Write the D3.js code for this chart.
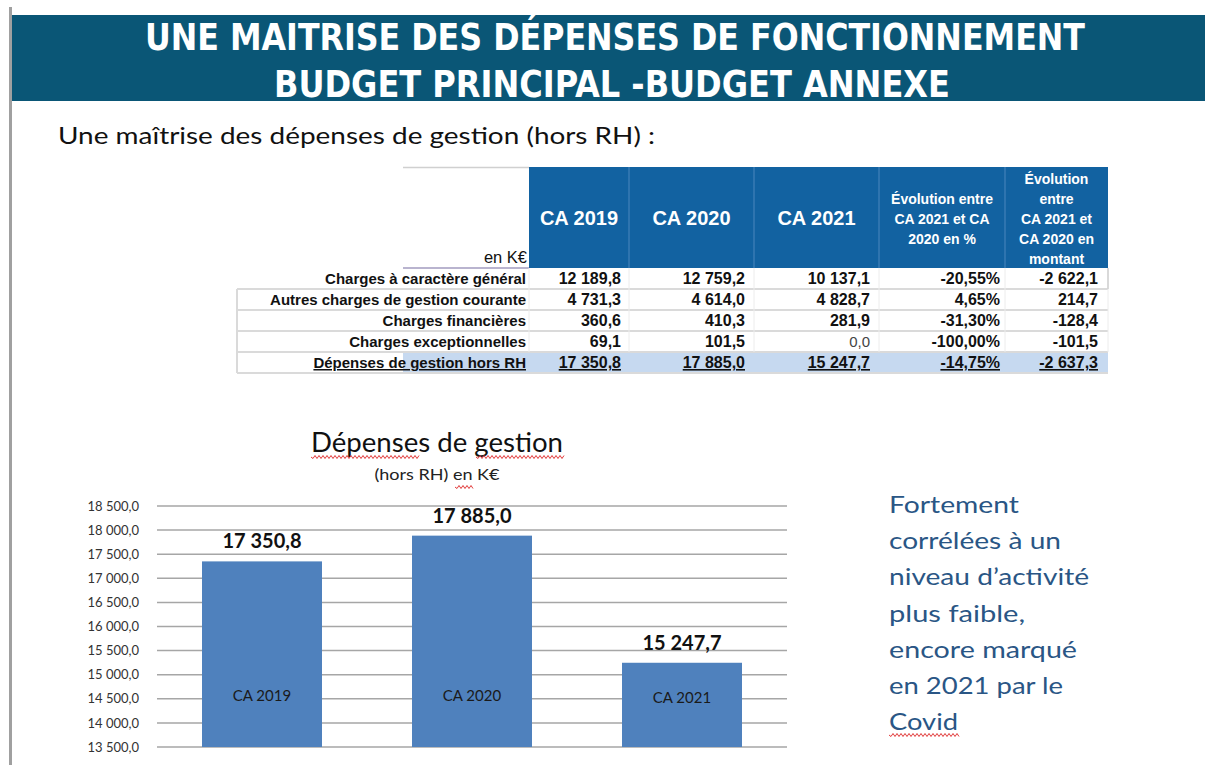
<!DOCTYPE html>
<html><head><meta charset="utf-8">
<script src="https://cdn.jsdelivr.net/npm/d3@7"></script>
<style>html,body{margin:0;padding:0;background:#fff;}svg{display:block;}</style>
</head><body>
<svg id="c" width="1205" height="765"></svg>
<script>
// ---------- DATA ----------
const titleLines = ["UNE MAITRISE DES DÉPENSES DE FONCTIONNEMENT", "BUDGET PRINCIPAL -BUDGET ANNEXE"];
const subtitle = "Une maîtrise des dépenses de gestion (hors RH) :";
const rowLabels = ["Charges à caractère général", "Autres charges de gestion courante", "Charges financières", "Charges exceptionnelles", "Dépenses de gestion hors RH"];
const ca2019 = [12189.8, 4731.3, 360.6, 69.1, 17350.8];
const ca2020 = [12759.2, 4614.0, 410.3, 101.5, 17885.0];
const ca2021 = [10137.1, 4828.7, 281.9, 0.0, 15247.7];
const evolPct = [-20.55, 4.65, -31.30, -100.00, -14.75];
const evolAmt = [-2622.1, 214.7, -128.4, -101.5, -2637.3];
const colHeaders = [["CA 2019"], ["CA 2020"], ["CA 2021"], ["Évolution entre", "CA 2021 et CA", "2020 en %"], ["Évolution", "entre", "CA 2021 et", "CA 2020 en", "montant"]];
const unitLabel = "en K€";

const chartTitle = "Dépenses de gestion";
const chartSub = "(hors RH) en K€";
const categories = ["CA 2019", "CA 2020", "CA 2021"];
const values = [17350.8, 17885.0, 15247.7];
const yTicks = [13500, 14000, 14500, 15000, 15500, 16000, 16500, 17000, 17500, 18000, 18500];
const noteLines = ["Fortement", "corrélées à un", "niveau d’activité", "plus faible,", "encore marqué", "en 2021 par le", "Covid"];

// ---------- HELPERS ----------
const loc = d3.formatLocale({decimal: ",", thousands: " ", grouping: [3], currency: ["", "€"], minus: "-"});
const f1 = loc.format(",.1f");
const f2 = v => loc.format(".2f")(v) + "%";
const svg = d3.select("#c");
const calib = "Lato, 'Open Sans', sans-serif";
const arial = "'Liberation Sans', Arial, sans-serif";

function wavy(x0, x1, y) {
  let p = `M${x0},${y}`;
  for (let x = x0; x < x1; x += 2) p += `L${x + 2},${y + ((x - x0) / 2 % 2 === 0 ? 1.5 : -1.5)}`;
  svg.append("path").attr("d", p).attr("fill", "none").attr("stroke", "#e23a3a").attr("stroke-width", 1);
}

// ---------- PAGE FRAME ----------
svg.append("rect").attr("x", 9).attr("y", 7).attr("width", 3).attr("height", 758).attr("fill", "#a0a0a0");
svg.append("rect").attr("x", 12).attr("y", 15).attr("width", 1193).attr("height", 86).attr("fill", "#0a5676");
const tW = [940, 676], tX = [615, 612], tY = [50, 97];
titleLines.forEach((t, i) => {
  svg.append("text").attr("x", tX[i]).attr("y", tY[i]).attr("text-anchor", "middle")
    .attr("font-family", "'Liberation Sans Narrow', 'DejaVu Sans Condensed', sans-serif").attr("font-weight", "bold")
    .attr("font-size", 37).attr("fill", "#fff")
    .attr("textLength", tW[i]).attr("lengthAdjust", "spacingAndGlyphs").text(t);
});
svg.append("text").attr("x", 58).attr("y", 144).attr("font-family", calib).attr("font-size", 24).attr("fill", "#111")
  .attr("textLength", 597).attr("lengthAdjust", "spacingAndGlyphs").text(subtitle);

// ---------- TABLE ----------
const colEdges = [529, 629, 754, 879, 1005, 1108];
const labelLeft = 237, labelMid = 403;
const yRow = d3.scaleBand().domain(d3.range(rowLabels.length)).range([268, 373]);
const headTop = 167, headBot = 268;
const gT = svg.append("g");
// header
gT.append("rect").attr("x", colEdges[0]).attr("y", headTop).attr("width", colEdges[5] - colEdges[0]).attr("height", headBot - headTop).attr("fill", "#1262a1");
gT.append("line").attr("x1", labelMid).attr("x2", colEdges[0]).attr("y1", headTop + 0.5).attr("y2", headTop + 0.5).attr("stroke", "#d0d0d0").attr("stroke-width", 1.5);
colEdges.slice(1, 5).forEach(x => gT.append("line").attr("x1", x).attr("x2", x).attr("y1", headTop).attr("y2", headBot).attr("stroke", "#4b86bd").attr("stroke-width", 1));
gT.append("text").attr("x", 527).attr("y", 263).attr("text-anchor", "end").attr("font-family", arial).attr("font-size", 16.5).attr("fill", "#111").text(unitLabel);
colHeaders.forEach((lines, i) => {
  const cx = (colEdges[i] + colEdges[i + 1]) / 2;
  if (lines.length === 1) {
    gT.append("text").attr("x", cx).attr("y", 225).attr("text-anchor", "middle").attr("font-family", arial).attr("font-weight", "bold").attr("font-size", 20).attr("fill", "#fff").text(lines[0]);
  } else {
    const start = lines.length === 3 ? 204 : 184;
    lines.forEach((l, j) => gT.append("text").attr("x", cx).attr("y", start + j * 20).attr("text-anchor", "middle").attr("font-family", arial).attr("font-weight", "bold").attr("font-size", 14).attr("fill", "#fff").text(l));
  }
});
// total row fill
const last = rowLabels.length - 1;
gT.append("rect").attr("x", labelMid).attr("y", yRow(last)).attr("width", colEdges[5] - labelMid).attr("height", yRow.bandwidth()).attr("fill", "#c6d9f0");
// borders
gT.append("line").attr("x1", labelMid).attr("x2", colEdges[0]).attr("y1", yRow(0)).attr("y2", yRow(0)).attr("stroke", "#b9b4cf").attr("stroke-width", 2);
d3.range(1, rowLabels.length + 1).forEach(i => {
  const y = i < rowLabels.length ? yRow(i) : yRow(last) + yRow.bandwidth();
  gT.append("line").attr("x1", labelLeft).attr("x2", colEdges[5]).attr("y1", y).attr("y2", y).attr("stroke", "#dadada").attr("stroke-width", 2);
});
gT.append("line").attr("x1", labelLeft).attr("x2", labelLeft).attr("y1", yRow(1)).attr("y2", yRow(last) + yRow.bandwidth()).attr("stroke", "#dadada").attr("stroke-width", 2);
colEdges.forEach(x => gT.append("line").attr("x1", x).attr("x2", x).attr("y1", yRow(0)).attr("y2", yRow(last)).attr("stroke", "#ececec").attr("stroke-width", 1));
gT.append("line").attr("x1", colEdges[5]).attr("x2", colEdges[5]).attr("y1", yRow(0)).attr("y2", yRow(1)).attr("stroke", "#cfcfcf").attr("stroke-width", 1.5);
// cells
const cols = [ca2019.map(f1), ca2020.map(f1), ca2021.map(f1), evolPct.map(f2), evolAmt.map(f1)];
const pads = [8, 9, 9, 5, 10];
rowLabels.forEach((lab, r) => {
  const yb = yRow(r) + yRow.bandwidth() / 2 + 5.5;
  const isTot = r === last;
  gT.append("text").attr("x", 526).attr("y", yb).attr("text-anchor", "end").attr("font-family", arial).attr("font-weight", "bold").attr("font-size", 15).attr("fill", "#111")
    .attr("text-decoration", isTot ? "underline" : null).text(lab);
  cols.forEach((c, k) => {
    const light = (k === 2 && ca2021[r] === 0);
    gT.append("text").attr("x", colEdges[k + 1] - pads[k]).attr("y", yb).attr("text-anchor", "end").attr("font-family", arial)
      .attr("font-weight", light ? "normal" : "bold").attr("font-size", light ? 15 : 16).attr("fill", light ? "#444" : "#111")
      .attr("text-decoration", isTot ? "underline" : null).text(c[r]);
  });
});

// ---------- BAR CHART ----------
const x = d3.scaleBand().domain(categories).range([157, 787]).paddingInner(0.4286).paddingOuter(0.2143);
const y = d3.scaleLinear().domain([13500, 18500]).range([747, 506]);
const gC = svg.append("g");
gC.append("text").attr("x", 437).attr("y", 452).attr("text-anchor", "middle").attr("font-family", calib).attr("font-size", 27).attr("fill", "#111")
  .attr("textLength", 252).attr("lengthAdjust", "spacingAndGlyphs").text(chartTitle);
gC.append("text").attr("x", 437).attr("y", 480).attr("text-anchor", "middle").attr("font-family", calib).attr("font-size", 15).attr("fill", "#222")
  .attr("textLength", 125).attr("lengthAdjust", "spacingAndGlyphs").text(chartSub);
wavy(311, 419, 457); wavy(476, 563, 457); wavy(455, 473, 487);

gC.selectAll("line.grid").data(yTicks).join("line").attr("class", "grid")
  .attr("x1", 157).attr("x2", 787).attr("y1", d => y(d)).attr("y2", d => y(d)).attr("stroke", "#a6a6a6").attr("stroke-width", 1.5);
const ax = gC.append("g").attr("transform", "translate(141,0)")
  .call(d3.axisLeft(y).tickValues(yTicks).tickSize(0).tickPadding(2).tickFormat(f1));
ax.select(".domain").remove();
ax.selectAll("text").attr("font-family", calib).attr("font-size", 13).attr("fill", "#333");

gC.selectAll("rect.bar").data(values).join("rect").attr("class", "bar")
  .attr("x", (d, i) => x(categories[i])).attr("width", x.bandwidth())
  .attr("y", d => y(d)).attr("height", d => y(13500) - y(d)).attr("fill", "#4f81bd");
gC.selectAll("text.val").data(values).join("text").attr("class", "val")
  .attr("x", (d, i) => x(categories[i]) + x.bandwidth() / 2).attr("y", d => y(d) - 13)
  .attr("text-anchor", "middle").attr("font-family", calib).attr("font-weight", "bold").attr("font-size", 20).attr("fill", "#111")
  .text(d => f1(d));
gC.selectAll("text.cat").data(categories).join("text").attr("class", "cat")
  .attr("x", d => x(d) + x.bandwidth() / 2).attr("y", (d, i) => i === 2 ? 703 : 701)
  .attr("text-anchor", "middle").attr("font-family", calib).attr("font-size", 15).attr("fill", "#1a1a1a").text(d => d);

// ---------- NOTE ----------
const noteW = [130, 172, 200, 136, 188, 174, 69];
noteLines.forEach((l, i) => {
  svg.append("text").attr("x", 889).attr("y", 513 + i * 36.2).attr("font-family", calib).attr("font-size", 24).attr("fill", "#2a5685")
    .attr("textLength", noteW[i]).attr("lengthAdjust", "spacingAndGlyphs").text(l);
});
wavy(889, 959, 735);
</script>
</body></html>
